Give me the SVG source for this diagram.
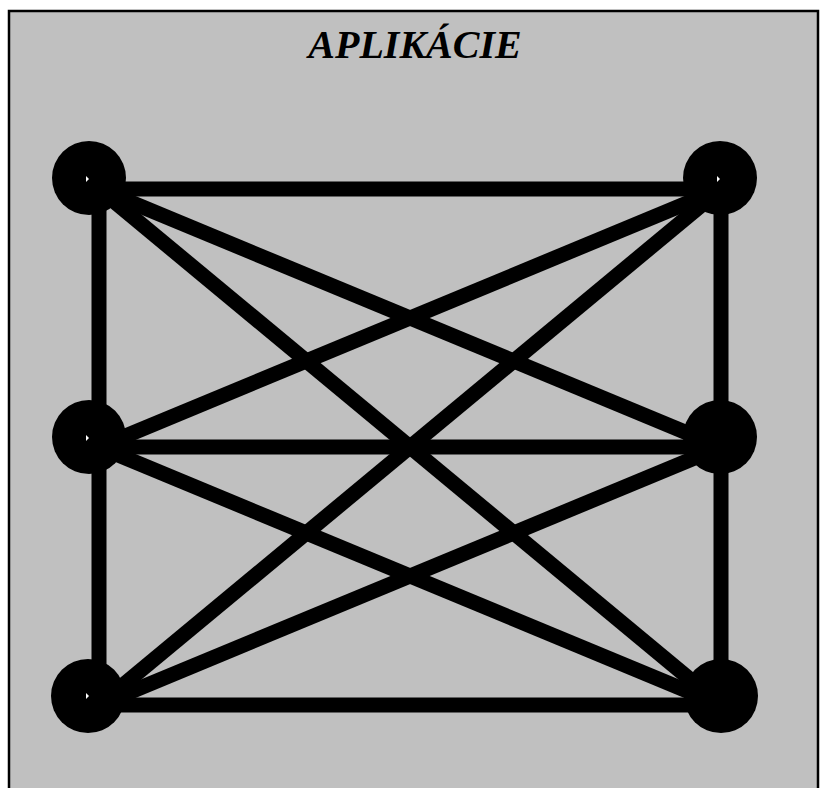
<svg xmlns="http://www.w3.org/2000/svg" width="820" height="788" viewBox="0 0 820 788">
<style>
.edge{stroke:#000;stroke-width:15;fill:none}
.node{fill:#000}
.mark{fill:#fff}
.title{font-family:"Liberation Serif","Times New Roman",serif;font-weight:bold;font-style:italic;font-size:40px;fill:#000}
</style>
<rect x="0" y="0" width="820" height="788" fill="#fff"/>
<rect x="9" y="11" width="809" height="790" fill="#c0c0c0" stroke="#000" stroke-width="2.5"/>
<text class="title" x="415" y="58" text-anchor="middle">APLIKÁCIE</text>
<g id="connectors">
<line class="edge" x1="99" y1="189" x2="721" y2="189"/>
<line class="edge" x1="99" y1="447" x2="721" y2="447"/>
<line class="edge" x1="99" y1="705" x2="721" y2="705"/>
<line class="edge" x1="99" y1="189" x2="99" y2="705"/>
<line class="edge" x1="721" y1="189" x2="721" y2="705"/>
<line class="edge" x1="99" y1="189" x2="721" y2="447"/>
<line class="edge" x1="99" y1="189" x2="721" y2="705"/>
<line class="edge" x1="721" y1="189" x2="99" y2="447"/>
<line class="edge" x1="721" y1="189" x2="99" y2="705"/>
<line class="edge" x1="99" y1="447" x2="721" y2="705"/>
<line class="edge" x1="721" y1="447" x2="99" y2="705"/>
</g>
<g id="n1"><circle class="node" cx="89" cy="178" r="37"/><polygon class="mark" points="86,176 89,179 86,182"/></g>
<g id="n2"><circle class="node" cx="720" cy="178" r="37"/><polygon class="mark" points="717,176 720,179 717,182"/></g>
<g id="n3"><circle class="node" cx="89" cy="437" r="37"/><polygon class="mark" points="86,435 89,438 86,441"/></g>
<g id="n4"><circle class="node" cx="720" cy="437" r="37"/></g>
<g id="n5"><circle class="node" cx="88" cy="696" r="37"/><polygon class="mark" points="86,693 89,696 86,699"/></g>
<g id="n6"><circle class="node" cx="721" cy="696" r="37"/></g>
</svg>
